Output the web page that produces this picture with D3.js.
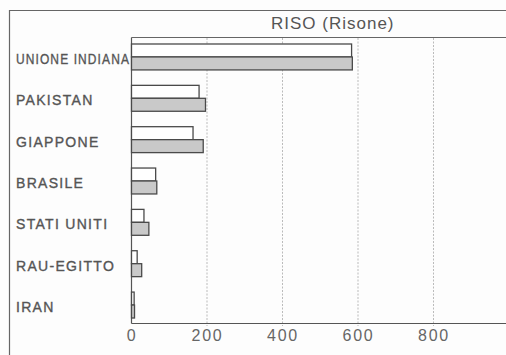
<!DOCTYPE html>
<html><head><meta charset="utf-8">
<script src="https://cdn.jsdelivr.net/npm/d3@7"></script>
<style>
html,body{margin:0;padding:0;background:#fdfdfd;}
svg{display:block;}
</style></head>
<body>
<script>
const categories = ["UNIONE INDIANA","PAKISTAN","GIAPPONE","BRASILE","STATI UNITI","RAU-EGITTO","IRAN"];
const seriesA = [583, 179, 163, 64, 33, 15, 7];   // white bars
const seriesB = [585, 196, 190, 67, 46, 27, 8];   // grey bars
const tickValues = [0, 200, 400, 600, 800];
const title = "RISO (Risone)";

const W = 506, H = 355;
const svg = d3.select("body").append("svg").attr("width", W).attr("height", H);
svg.append("rect").attr("width", W).attr("height", H).attr("fill", "#fdfdfd");

const x = d3.scaleLinear().domain([0, 1000]).range([131.5, 509]);
const y = d3.scaleBand().domain(categories).range([44, 318]).paddingInner(0.373).paddingOuter(0);
const yi = d3.scaleBand().domain(["a","b"]).range([0, y.bandwidth()]);

const ink = "#4a4a4a";
const txt = "#555";

// outer frame
svg.append("path").attr("d", `M9.5,${H} V10.5 H${W}`).attr("fill","none").attr("stroke", "#666").attr("stroke-width", 1.2);
// title box bottom
svg.append("line").attr("x1", 131.5).attr("x2", W).attr("y1", 37.5).attr("y2", 37.5).attr("stroke", "#666").attr("stroke-width", 1.2);
svg.append("text").attr("x", 271).attr("y", 29).attr("font-family", "Liberation Sans, Arial, sans-serif")
  .attr("font-size", 17).attr("letter-spacing", 1).attr("fill", txt).text(title);

// gridlines
svg.append("g").selectAll("line").data(tickValues.filter(d => d > 0)).join("line")
  .attr("x1", d => x(d)).attr("x2", d => x(d)).attr("y1", 38).attr("y2", 326)
  .attr("stroke", "#bbb").attr("stroke-width", 1).attr("stroke-dasharray", "2,1.5");

// x axis
const xAxis = d3.axisBottom(x).tickValues(tickValues).tickSize(0).tickPadding(6);
const gx = svg.append("g").attr("transform", "translate(0,323.5)").call(xAxis);
gx.select(".domain").attr("stroke", "#555").attr("stroke-width", 1.2).attr("d", `M${x(0)},0H${W}`);
gx.selectAll("text").attr("font-family", "Liberation Sans, Arial, sans-serif").attr("font-size", 16)
  .attr("letter-spacing", 1.8).attr("fill", "#666").attr("dy", "0.71em");

// y axis
const gy = svg.append("g").attr("transform", `translate(${x(0)},0)`)
  .call(d3.axisLeft(y).tickSize(0).tickPadding(0));
gy.select(".domain").attr("stroke", "#555").attr("stroke-width", 1.2).attr("d", "M0,37.5V323.5");
gy.selectAll("text").attr("text-anchor", "start").attr("x", -115.5).attr("dy", "0.5em")
  .attr("font-family", "Liberation Sans, Arial, sans-serif").attr("font-size", 14)
  .attr("letter-spacing", 1.3).attr("fill", txt).attr("stroke", txt).attr("stroke-width", 0.35)
  .each(function () {
    const len = this.getComputedTextLength();
    if (len > 114) d3.select(this).attr("textLength", 114).attr("lengthAdjust", "spacingAndGlyphs");
  });

// bars
const groups = svg.append("g").selectAll("g").data(categories).join("g")
  .attr("transform", d => `translate(0,${y(d)})`);
groups.append("rect").attr("x", x(0)).attr("y", yi("a"))
  .attr("width", (d, i) => x(seriesA[i]) - x(0)).attr("height", yi.bandwidth())
  .attr("fill", "#fff").attr("stroke", ink).attr("stroke-width", 1.3);
groups.append("rect").attr("x", x(0)).attr("y", yi("b"))
  .attr("width", (d, i) => x(seriesB[i]) - x(0)).attr("height", yi.bandwidth())
  .attr("fill", "#c9c9c9").attr("stroke", ink).attr("stroke-width", 1.3);
</script>
</body></html>
